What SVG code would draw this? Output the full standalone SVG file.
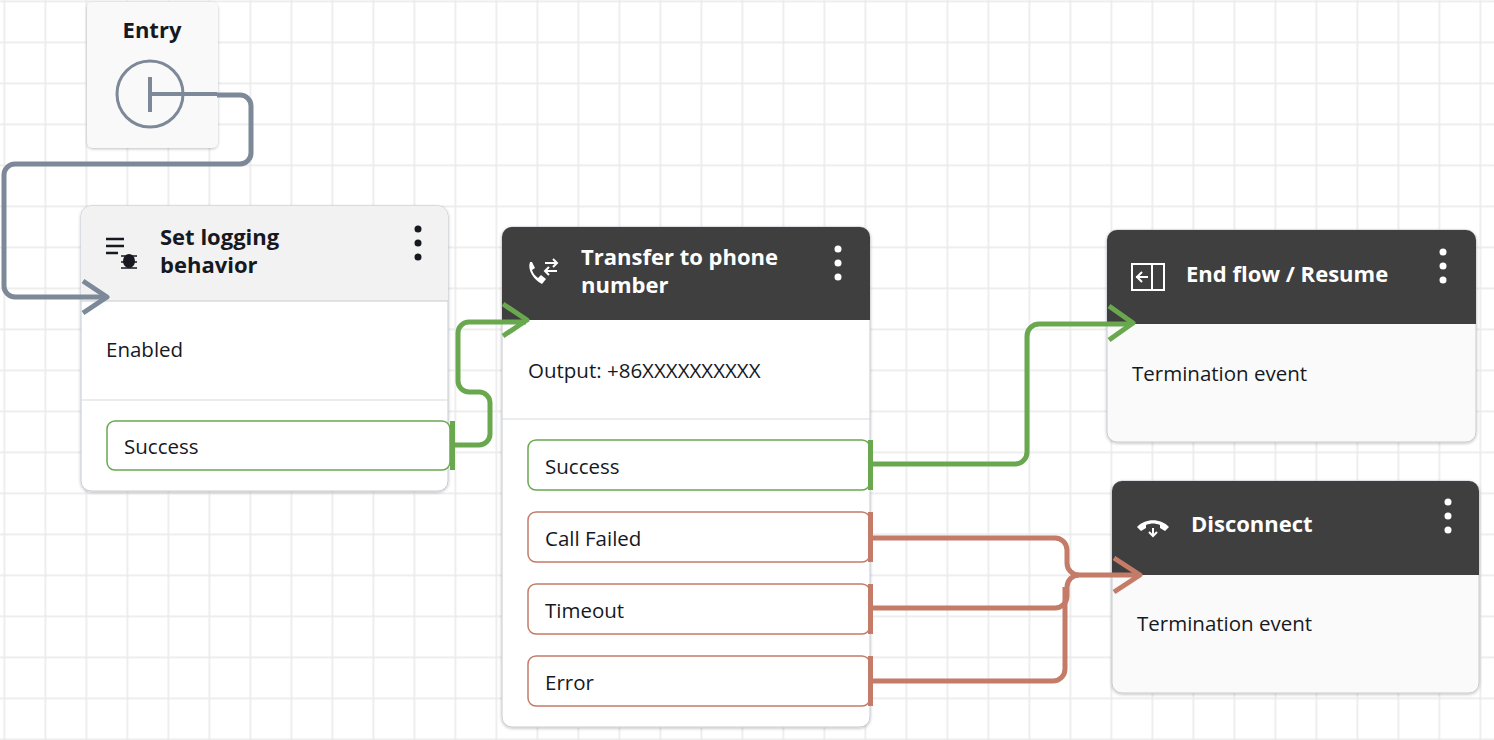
<svg xmlns="http://www.w3.org/2000/svg" width="1494" height="740" viewBox="0 0 1494 740">
<defs>
<pattern id="grid" x="3.5" y="0.5" width="41" height="41" patternUnits="userSpaceOnUse">
<path d="M0 0V41M0 0H41" fill="none" stroke="#ebebeb" stroke-width="3.5"/>
</pattern>
<filter id="sh" x="-10%" y="-10%" width="120%" height="120%"><feDropShadow dx="0" dy="1" stdDeviation="1.5" flood-color="#000" flood-opacity="0.25"/></filter>
</defs>
<style>
text{font-family:"Open Sans","Noto Sans",sans-serif;fill:#16191f}
.t{font-weight:bold;font-size:22px}
.tw{font-weight:bold;font-size:22px;fill:#fff}
.b{font-size:20.5px}
.card{fill:#fff;stroke:#c6cbd2;stroke-width:1}
.card2{fill:#fafafa;stroke:#c6cbd2;stroke-width:1}
.hd{fill:#3f3f3f}
.ok{fill:#fff;stroke:#6aa84f;stroke-width:1.5}
.er{fill:#fff;stroke:#c47b67;stroke-width:1.5}
.cg{fill:none;stroke:#6aa84f;stroke-width:5;stroke-linejoin:round}
.cr{fill:none;stroke:#c47b67;stroke-width:5;stroke-linejoin:round}
.cy{fill:none;stroke:#7d8998;stroke-width:5;stroke-linejoin:round}
</style>
<rect width="1494" height="740" fill="#fff"/>
<rect width="1494" height="740" fill="url(#grid)"/>

<g id="entry">
<rect x="87" y="2" width="131" height="146" rx="6" fill="#f9f9f9" filter="url(#sh)"/>
<text x="152" y="38" class="t" text-anchor="middle">Entry</text>
<circle cx="150" cy="94" r="33" fill="none" stroke="#7d8998" stroke-width="3"/>
<path d="M150 77V112M150 94H217" fill="none" stroke="#7d8998" stroke-width="4"/>
</g>

<g id="set-logging">
<rect x="81" y="206" width="367" height="285" rx="10" class="card" filter="url(#sh)"/>
<path d="M81 301V216a10 10 0 0 1 10-10H438a10 10 0 0 1 10 10V301Z" fill="#f2f2f2"/>
<line x1="81" y1="301" x2="448" y2="301" stroke="#c6cbd2"/>
<path d="M106 239H124M106 246H124M106 253H118" stroke="#16191f" stroke-width="2.5"/>
<ellipse cx="129" cy="261" rx="6" ry="7" fill="#16191f"/>
<path d="M121 256H137M121 262H137M121 268H137" stroke="#16191f" stroke-width="1.5"/>
<text x="160" y="245" class="t">Set logging</text>
<text x="160" y="273" class="t">behavior</text>
<g fill="#16191f"><circle cx="418" cy="229" r="3.5"/><circle cx="418" cy="243" r="3.5"/><circle cx="418" cy="257" r="3.5"/></g>
<text x="106" y="357" class="b">Enabled</text>
<line x1="81" y1="400" x2="448" y2="400" stroke="#d5d9de"/>
<rect x="107" y="421" width="343" height="49" rx="8" class="ok"/>
<text x="124" y="454" class="b">Success</text>
<rect x="450" y="421" width="5" height="49" fill="#6aa84f"/>
</g>

<g id="transfer">
<rect x="502" y="227" width="368" height="500" rx="10" class="card" filter="url(#sh)"/>
<path d="M502 320V237a10 10 0 0 1 10-10H860a10 10 0 0 1 10 10V320Z" class="hd"/>
<path d="M530 262c-3 8 4 18 12 22l4-5-5-4-3 3c-3-2-5-5-6-8l3-2-3-6z" fill="#fff"/>
<path d="M545 263H557M553 259l4 4-4 4M557 271H545M549 267l-4 4 4 4" fill="none" stroke="#fff" stroke-width="2"/>
<text x="581" y="265" class="tw">Transfer to phone</text>
<text x="581" y="293" class="tw">number</text>
<g fill="#fff"><circle cx="838" cy="249" r="3.5"/><circle cx="838" cy="263" r="3.5"/><circle cx="838" cy="277" r="3.5"/></g>
<text x="528" y="378" class="b">Output: +86XXXXXXXXXX</text>
<line x1="502" y1="419" x2="870" y2="419" stroke="#d5d9de"/>
<rect x="528" y="440" width="342" height="50" rx="8" class="ok"/>
<text x="545" y="474" class="b">Success</text>
<rect x="868" y="440" width="5" height="50" fill="#6aa84f"/>
<rect x="528" y="512" width="342" height="50" rx="8" class="er"/>
<text x="545" y="546" class="b">Call Failed</text>
<rect x="868" y="512" width="5" height="50" fill="#c47b67"/>
<rect x="528" y="584" width="342" height="50" rx="8" class="er"/>
<text x="545" y="618" class="b">Timeout</text>
<rect x="868" y="584" width="5" height="50" fill="#c47b67"/>
<rect x="528" y="656" width="342" height="50" rx="8" class="er"/>
<text x="545" y="690" class="b">Error</text>
<rect x="868" y="656" width="5" height="50" fill="#c47b67"/>
</g>

<g id="end-flow">
<rect x="1107" y="230" width="369" height="212" rx="10" class="card2" filter="url(#sh)"/>
<path d="M1107 324V240a10 10 0 0 1 10-10H1466a10 10 0 0 1 10 10V324Z" class="hd"/>
<rect x="1132" y="264" width="32" height="26" fill="none" stroke="#fff" stroke-width="2"/>
<path d="M1152 264V290M1136 277H1148M1142 272l-5 5 5 5" fill="none" stroke="#fff" stroke-width="2"/>
<text x="1186" y="282" class="tw">End flow / Resume</text>
<g fill="#fff"><circle cx="1443" cy="252" r="3.5"/><circle cx="1443" cy="266" r="3.5"/><circle cx="1443" cy="280" r="3.5"/></g>
<text x="1132" y="381" class="b">Termination event</text>
</g>

<g id="disconnect">
<rect x="1112" y="481" width="367" height="212" rx="10" class="card2" filter="url(#sh)"/>
<path d="M1112 575V491a10 10 0 0 1 10-10H1469a10 10 0 0 1 10 10V575Z" class="hd"/>
<path d="M1137 527c8-9 24-9 32 0l-4 4-5-3v-3c-5-2-9-2-14 0v3l-5 3z" fill="#fff"/>
<path d="M1153 528v7M1149 532l4 4 4-4" fill="none" stroke="#fff" stroke-width="2"/>
<text x="1191" y="532" class="tw">Disconnect</text>
<g fill="#fff"><circle cx="1448" cy="502" r="3.5"/><circle cx="1448" cy="516" r="3.5"/><circle cx="1448" cy="530" r="3.5"/></g>
<text x="1137" y="631" class="b">Termination event</text>
</g>

<g id="connectors">
<path class="cy" d="M217 95H240a11 11 0 0 1 11 11V153a11 11 0 0 1-11 11H15a11 11 0 0 0-11 11V286a11 11 0 0 0 11 11H106"/>
<path class="cy" d="M83 281L107 297L83 313"/>
<path class="cg" d="M455 445H479a11 11 0 0 0 11-11V403a11 11 0 0 0-11-11H469a11 11 0 0 1-11-11V333a11 11 0 0 1 11-11H526"/>
<path class="cg" d="M503 304L527 320L503 336"/>
<path class="cg" d="M873 464H1015a12 12 0 0 0 12-12V336a12 12 0 0 1 12-12H1132"/>
<path class="cg" d="M1109 306L1133 323L1109 340"/>
<path class="cr" d="M873 538H1055a12 12 0 0 1 12 12V563a12 12 0 0 0 12 12H1139"/>
<path class="cr" d="M873 608H1055a12 12 0 0 0 12-12V587a12 12 0 0 1 12-12"/>
<path class="cr" d="M873 681H1053a12 12 0 0 0 12-12V587"/>
<path class="cr" d="M1114 558L1140 575L1114 592"/>
</g>
</svg>
